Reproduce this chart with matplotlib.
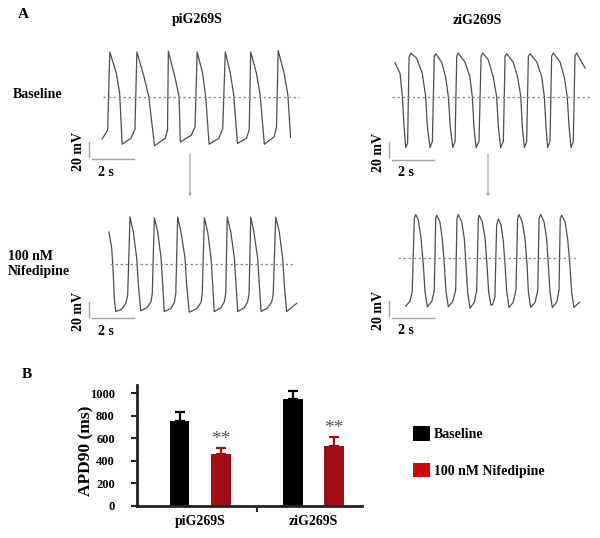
import matplotlib.pyplot as plt
from matplotlib.patches import Patch, FancyArrowPatch

plt.rcParams['font.family'] = 'serif'
plt.rcParams['font.serif'] = ['Liberation Serif', 'DejaVu Serif']
plt.rcParams['font.weight'] = 'bold'

# Panel A: action potential recordings, time (s) and membrane potential (mV)
pi_base_t = [0.01, 0.27, 0.37, 0.68, 0.84, 0.96, 1.38, 1.57, 1.66, 2.00, 2.23, 2.50,
             3.01, 3.12, 3.16, 3.47, 3.67, 3.73, 4.25, 4.43, 4.53, 4.79, 4.94, 5.10,
             5.57, 5.75, 5.87, 6.11, 6.27, 6.45, 6.88, 7.01, 7.08, 7.35, 7.53, 7.73,
             8.20, 8.31, 8.39, 8.67, 8.85, 8.98]
pi_base_v = [-56, -44, 60, 32, 5, -63, -55, -43, 60, 27, 0, -65,
             -55, -44, 61, 27, 0, -60, -51, -40, 60, 32, 0, -63,
             -55, -42, 60, 32, 3, -62, -55, -44, 60, 32, 3, -63,
             -53, -40, 62, 32, 3, -54]

zi_base_t = [0, 0.24, 0.35, 0.43, 0.51, 0.60, 0.67, 0.76,
             1.03, 1.30, 1.46, 1.54, 1.67, 1.78, 1.87, 1.94,
             2.22, 2.41, 2.54, 2.63, 2.75, 2.86, 2.94, 3.01,
             3.33, 3.57, 3.68, 3.76, 3.86, 4.00, 4.10, 4.18,
             4.44, 4.68, 4.84, 4.92, 5.03, 5.16, 5.24, 5.32,
             5.63, 5.84, 5.99, 6.06, 6.16, 6.27, 6.35, 6.44,
             6.75, 6.99, 7.11, 7.19, 7.27, 7.38, 7.46, 7.54,
             7.86, 8.06, 8.20, 8.29, 8.38, 8.49, 8.57, 8.65, 9.05]
zi_base_v = [46, 32, 1, -39, -67, -61, 54, 59,
             52, 32, 1, -39, -67, -59, 55, 58,
             47, 27, 1, -39, -67, -59, 55, 59,
             47, 27, 1, -39, -67, -59, 55, 59,
             50, 27, 1, -39, -67, -59, 55, 58,
             47, 27, 1, -39, -67, -59, 55, 58,
             47, 27, 1, -39, -67, -59, 55, 59,
             47, 27, 1, -39, -67, -59, 55, 59, 39]

pi_nif_t = [0, 0.13, 0.20, 0.25, 0.32, 0.60, 0.80, 0.89, 1.00,
            1.16, 1.32, 1.40, 1.51, 1.80, 2.00, 2.06, 2.16,
            2.32, 2.48, 2.56, 2.63, 2.95, 3.11, 3.18, 3.27,
            3.43, 3.62, 3.70, 3.82, 4.18, 4.38, 4.44, 4.54,
            4.70, 4.86, 4.94, 5.01, 5.33, 5.49, 5.56, 5.63,
            5.80, 5.97, 6.05, 6.13, 6.44, 6.60, 6.67, 6.75,
            6.90, 7.08, 7.16, 7.24, 7.56, 7.75, 7.82, 7.94,
            8.11, 8.27, 8.35, 8.46, 8.94]
pi_nif_v = [43, 21, -10, -45, -63, -60, -52, -41, 63,
            43, 8, -28, -62, -58, -50, -39, 62,
            43, 8, -28, -63, -59, -51, -39, 63,
            43, 8, -28, -64, -59, -51, -39, 62,
            43, 8, -28, -63, -58, -50, -39, 63,
            43, 8, -28, -63, -58, -50, -39, 63,
            43, 8, -28, -63, -58, -50, -39, 63,
            43, 8, -28, -63, -52]

zi_nif_t = [0, 0.20, 0.31, 0.41, 0.48,
            0.60, 0.73, 0.84, 0.92, 1.03, 1.24, 1.36, 1.43, 1.48,
            1.63, 1.74, 1.84, 1.92, 2.03, 2.24, 2.38, 2.44, 2.50,
            2.67, 2.79, 2.87, 2.95, 3.06, 3.27, 3.38, 3.46, 3.50,
            3.65, 3.78, 3.87, 3.95, 4.06, 4.14, 4.25, 4.33, 4.41,
            4.54, 4.65, 4.73, 4.81, 4.92, 5.12, 5.25, 5.33, 5.40,
            5.55, 5.68, 5.78, 5.84, 5.95, 6.16, 6.29, 6.35, 6.43,
            6.59, 6.71, 6.79, 6.87, 6.98, 7.19, 7.30, 7.36, 7.43,
            7.59, 7.71, 7.82, 7.90, 8.01, 8.27]
zi_nif_v = [-64, -58, -45, 53, 58,
            51, 26, -9, -45, -65, -58, -43, 53, 57,
            48, 26, -9, -45, -65, -58, -43, 53, 58,
            48, 26, -9, -45, -67, -59, -43, 53, 57,
            48, 26, -9, -45, -63, -62, -52, 44, 52,
            44, 22, -9, -45, -66, -59, -43, 53, 58,
            48, 26, -9, -45, -66, -59, -43, 53, 58,
            48, 26, -9, -45, -66, -59, -43, 53, 57,
            48, 26, -9, -45, -66, -59]

# Panel B: APD90 (ms)
groups = ['piG269S', 'ziG269S']
apd_base = [757, 946]
apd_base_err = [77, 77]
apd_nif = [457, 530]
apd_nif_err = [54, 82]

W, H = 600, 538
PX_PER_S = 21.0
PX_PER_MV = 0.75


def fx(px):
    return px / W


def fy(py):
    return 1 - py / H


fig = plt.figure(figsize=(6, 5.38), dpi=100)

trace_col = '#4d4d4d'
bar_col = '#a0a0a0'

# origin of each trace in pixels (t=0, V=0), dashed-line span, scale bar corner
traces = [
    (pi_base_t, pi_base_v, 102, 97, (0.05, 9.4), (-0.62, -0.48, -60, -83)),
    (zi_base_t, zi_base_v, 395, 97.3, (-0.14, 9.38), (-0.29, -0.14, -60, -83)),
    (pi_nif_t, pi_nif_v, 109, 264.3, (0.05, 8.86), (-0.95, -0.81, -50, -72)),
    (zi_nif_t, zi_nif_v, 405.7, 258, (-0.37, 8.2), (-0.80, -0.65, -57, -80)),
]

for t, v, x0, y0, dash, sb in traces:
    ax = fig.add_axes([fx(x0), fy(y0 + 80 * PX_PER_MV), fx(9 * PX_PER_S), 160 * PX_PER_MV / H])
    ax.set_xlim(0, 9)
    ax.set_ylim(-80, 80)
    ax.axis('off')
    ax.plot(t, v, color=trace_col, lw=0.9, clip_on=False, solid_joinstyle='round')
    ax.plot(dash, [0, 0], color='#8a8a8a', lw=0.9, ls=(0, (2, 2)), clip_on=False)
    vx, hx, vtop, hy = sb
    ax.plot([vx, vx], [vtop, vtop - 20], color=bar_col, lw=1, clip_on=False)
    ax.plot([hx, hx + 2], [hy, hy], color=bar_col, lw=1, clip_on=False)
    ax.text(vx - 0.48, vtop - 13, '20 mV', rotation=90, ha='center', va='center',
            fontsize=10, clip_on=False)
    ax.text(hx + 0.65, hy - 17, '2 s', ha='center', va='center', fontsize=10, clip_on=False)

fig.text(fx(23), fy(15), 'A', fontsize=11, ha='center', va='center')
fig.text(fx(197), fy(20), 'piG269S', fontsize=10, ha='center', va='center')
fig.text(fx(477), fy(20), 'ziG269S', fontsize=10, ha='center', va='center')
fig.text(fx(13), fy(95), 'Baseline', fontsize=10, ha='left', va='center')
fig.text(fx(8), fy(264), '100 nM\nNifedipine', fontsize=10, ha='left', va='center',
         linespacing=1.15)

for ax_x in (190, 488):
    fig.add_artist(FancyArrowPatch((fx(ax_x), fy(151)), (fx(ax_x), fy(199)),
                                   transform=fig.transFigure, arrowstyle='-|>',
                                   mutation_scale=3, color='#9a9a9a', lw=0.8))

# Panel B
fig.text(fx(27), fy(375), 'B', fontsize=11, ha='center', va='center')

axb = fig.add_axes([fx(137), fy(505.7), fx(225), 120.7 / H])
x = [0, 1]
off = 0.182
bw = 0.172
xb = [i - off for i in x]
xn = [i + off for i in x]
axb.bar(xb, apd_base, width=bw, color='black', zorder=2)
axb.bar(xn, apd_nif, width=bw, color='#a30d16', zorder=2)
axb.errorbar(xb, apd_base, yerr=[[0, 0], apd_base_err], fmt='none', ecolor='black',
             elinewidth=1.6, capsize=3.5, capthick=1.6, zorder=1)
axb.errorbar(xn, apd_nif, yerr=[[0, 0], apd_nif_err], fmt='none', ecolor='#a30d16',
             elinewidth=1.6, capsize=3.5, capthick=1.6, zorder=1)
for xi, val, err in zip(xn, apd_nif, apd_nif_err):
    axb.text(xi, val + err + 80, '**', ha='center', va='center', fontsize=14,
             color='#555555', fontweight='normal')

axb.set_xlim(-0.56, 1.43)
axb.set_ylim(0, 1075)
axb.set_yticks([0, 200, 400, 600, 800, 1000])
axb.set_xticks(x)
axb.set_xticklabels(groups)
axb.set_xticks([0.5], minor=True)
axb.tick_params(axis='y', direction='out', length=4, width=1.5, pad=12, labelsize=9,
                color='#222222')
axb.tick_params(axis='x', which='major', length=0, pad=7, labelsize=10)
axb.tick_params(axis='x', which='minor', direction='out', length=4, width=1.5,
                color='#222222')
for s in ('top', 'right'):
    axb.spines[s].set_visible(False)
for s in ('left', 'bottom'):
    axb.spines[s].set_linewidth(2)
    axb.spines[s].set_color('#222222')
fig.text(fx(86), fy(451), 'APD90 (ms)', rotation=90, ha='center', va='center', fontsize=12.5)

handles = [Patch(facecolor='black'), Patch(facecolor='#c80a0a')]
fig.legend(handles, ['Baseline', '100 nM Nifedipine'], loc='upper left',
           bbox_to_anchor=(fx(413), fy(426)), frameon=False, fontsize=10,
           handlelength=1.2, handleheight=1.25, labelspacing=1.55, handletextpad=0.3,
           borderpad=0, borderaxespad=0)

plt.savefig('out.png', dpi=100)
